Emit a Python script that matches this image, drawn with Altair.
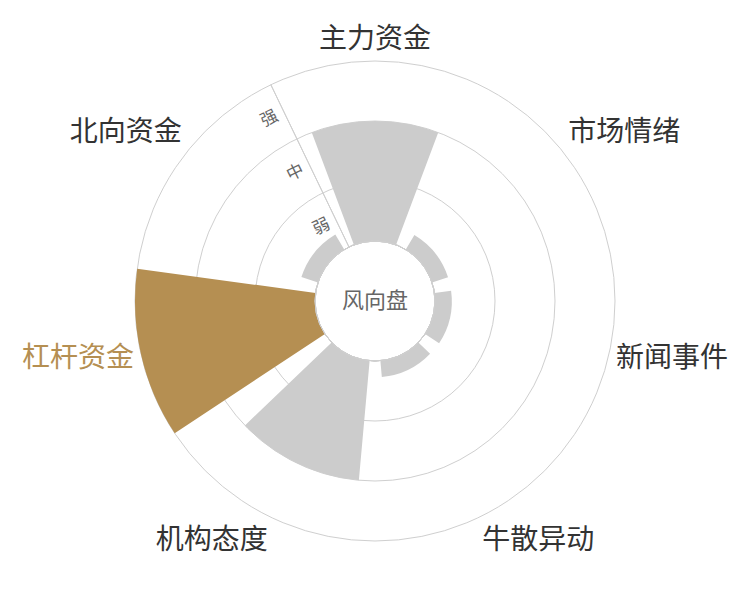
import math
import altair as alt
import pandas as pd

# ---- data ----
categories = ["主力资金", "市场情绪", "新闻事件", "牛散异动", "机构态度", "杠杆资金", "北向资金"]
strength = [2.0, 0.28, 0.28, 0.27, 2.0, 3.0, 0.29]
levels = ["弱", "中", "强"]
level_values = [1, 2, 3]
highlight = "杠杆资金"
center_title = "风向盘"

N = len(categories)
FONT = "Noto Sans CJK SC"
GOLD = "#b58f52"
GRAY = "#cccccc"
GRID = "#cfcfcf"
TEXT = "#333333"

bars_df = pd.DataFrame({"cat": categories, "value": strength, "idx": list(range(N))})
rings_df = pd.DataFrame({"ring": level_values})
levels_df = pd.DataFrame({"label": levels, "lv": level_values})
one_df = pd.DataFrame({"k": [0]})

theta_scale = alt.Scale(domain=[0, N], range=[-math.pi / N, 2 * math.pi - math.pi / N])
radius_scale = alt.Scale(domain=[0, 3], range=[60, 240])

is_hl = alt.datum.cat == highlight

rings = alt.Chart(rings_df).mark_arc(fillOpacity=0, stroke=GRID, strokeWidth=1).encode(
    theta=alt.value(0),
    theta2=alt.value(2 * math.pi),
    radius=alt.Radius("ring:Q", scale=radius_scale, stack=False),
)

axis_line = alt.Chart(one_df).mark_arc(fillOpacity=0, stroke=GRID, strokeWidth=1).encode(
    theta=alt.Theta(datum=0, scale=theta_scale),
    theta2=alt.datum(0),
    radius=alt.datum(3),
    radius2=alt.datum(0),
)

bars = alt.Chart(bars_df).transform_calculate(
    t0="datum.idx + 0.1", t1="datum.idx + 0.9"
).mark_arc().encode(
    theta=alt.Theta("t0:Q", scale=theta_scale, stack=False),
    theta2="t1:Q",
    radius=alt.Radius("value:Q", scale=radius_scale, stack=False),
    radius2=alt.datum(0),
    color=alt.condition(is_hl, alt.value(GOLD), alt.value(GRAY)),
)

center_circle = alt.Chart(one_df).mark_arc(fill="white", stroke=GRID, strokeWidth=1).encode(
    theta=alt.value(0),
    theta2=alt.value(2 * math.pi),
    radius=alt.datum(0),
)

level_text = alt.Chart(levels_df).transform_calculate(
    pos="datum.lv - 0.5"
).mark_text(
    angle=334, dx=-16, fontSize=17, color="#666666", font=FONT,
    align="center", baseline="middle",
).encode(
    theta=alt.datum(0),
    radius=alt.Radius("pos:Q", scale=radius_scale, stack=False),
    text="label:N",
)

label_layers = []
for i, cat in enumerate(categories):
    ang = 2 * math.pi * i / N
    s, c = math.sin(ang), math.cos(ang)
    align = "center" if abs(s) < 0.1 else ("left" if s > 0 else "right")
    baseline = "bottom" if c > 0.3 else ("top" if c < -0.3 else "middle")
    layer = alt.Chart(bars_df).transform_filter(
        alt.datum.cat == cat
    ).transform_calculate(
        mid="datum.idx + 0.5"
    ).mark_text(
        fontSize=28, font=FONT, align=align, baseline=baseline,
        dy=0 if baseline == "bottom" else 3,
    ).encode(
        theta=alt.Theta("mid:Q", scale=theta_scale, stack=False),
        radius=alt.datum(3.12),
        text="cat:N",
        color=alt.condition(is_hl, alt.value(GOLD), alt.value(TEXT)),
    )
    label_layers.append(layer)

center_text = alt.Chart(one_df).mark_text(
    fontSize=22, font=FONT, color="#666666", align="center", baseline="middle"
).encode(
    theta=alt.value(0),
    radius=alt.value(0),
    text=alt.value(center_title),
)

chart = alt.layer(
    rings, axis_line, bars, center_circle, level_text, *label_layers, center_text
).properties(
    width=734, height=586, padding=0,
    autosize=alt.AutoSizeParams(type="none"),
).configure_view(strokeWidth=0)

chart.save("out.html", embed_options={"renderer": "svg", "actions": False})
